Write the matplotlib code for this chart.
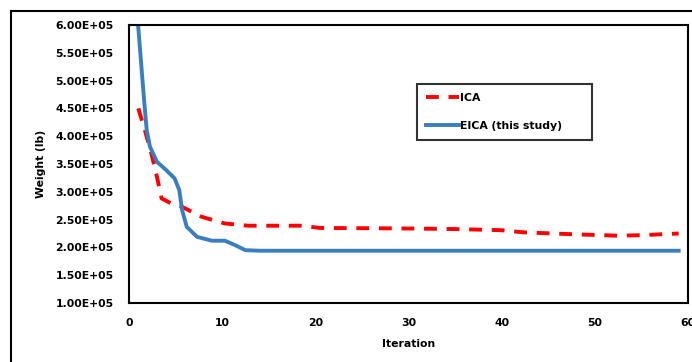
import matplotlib
matplotlib.use("Agg")
import matplotlib.pyplot as plt
from matplotlib.lines import Line2D

ica_x = [1.0, 1.7, 2.4, 3.0, 3.5, 4.9, 5.7, 7.8, 10.3, 12.8, 18.4, 20.5, 30.0, 35.0, 39.9, 42.4, 47.1, 52.5, 55.0, 59.0]
ica_y = [4.50e5, 4.11e5, 3.69e5, 3.27e5, 2.88e5, 2.76e5, 2.73e5, 2.55e5, 2.43e5, 2.39e5, 2.39e5, 2.35e5, 2.34e5, 2.33e5, 2.31e5, 2.27e5, 2.24e5, 2.21e5, 2.22e5, 2.25e5]

eica_x = [1.0, 1.36, 1.65, 1.9, 2.25, 3.0, 4.0, 4.9, 5.4, 5.7, 6.2, 7.3, 8.9, 10.3, 11.4, 12.5, 14.0, 20.0, 30.0, 40.0, 50.0, 59.0]
eica_y = [5.95e5, 5.19e5, 4.59e5, 4.11e5, 3.81e5, 3.54e5, 3.39e5, 3.24e5, 3.03e5, 2.67e5, 2.37e5, 2.19e5, 2.12e5, 2.12e5, 2.04e5, 1.95e5, 1.94e5, 1.94e5, 1.94e5, 1.94e5, 1.94e5, 1.94e5]

yticks = [1.0e5, 1.5e5, 2.0e5, 2.5e5, 3.0e5, 3.5e5, 4.0e5, 4.5e5, 5.0e5, 5.5e5, 6.0e5]
xticks = [0, 10, 20, 30, 40, 50, 60]

W, H = 692, 362
fig = plt.figure(figsize=(W / 100, H / 100), dpi=100)
font = "DejaVu Sans"

# outer border (top and left visible)
fig.add_artist(Line2D([11 / W, 11 / W], [0, 1 - 11 / H], transform=fig.transFigure, color="black", lw=1.5))
fig.add_artist(Line2D([11 / W, 1], [1 - 11 / H, 1 - 11 / H], transform=fig.transFigure, color="black", lw=1.5))

l, r, t, b = 129, 688, 25, 303
ax = fig.add_axes([l / W, 1 - b / H, (r - l) / W, (b - t) / H])
ax.plot(ica_x, ica_y, color="#ff0000", lw=2.8, ls=(0, (3.3, 2.5)), label="ICA", solid_capstyle="butt")
ax.plot(eica_x, eica_y, color="#3a7ebf", lw=2.8, label="EICA (this study)")
ax.set_xlim(0, 60)
ax.set_ylim(1.0e5, 6.0e5)
ax.set_xticks(xticks)
ax.set_yticks(yticks)
ax.set_yticklabels([f"{v:.2E}" for v in yticks], fontsize=7.8, fontweight="bold", family=font)
xl = ax.set_xticklabels([str(v) for v in xticks], fontsize=7.8, fontweight="bold", family=font)
xl[-1].set_clip_on(False)
ax.tick_params(length=0)
ax.tick_params(axis="x", pad=11)
ax.tick_params(axis="y", pad=11)
for s in ax.spines.values():
    s.set_linewidth(1.5)
ax.set_xlabel("Iteration", fontsize=7.8, fontweight="bold", family=font, labelpad=8)
ax.set_ylabel("Weight (lb)", fontsize=7.8, fontweight="bold", family=font, labelpad=7)

lx0 = (417 - l) / (r - l)
lw_ = (592 - 417) / (r - l)
ly1 = 1 - (84 - t) / (b - t)
leg = ax.legend(loc="upper left", bbox_to_anchor=(lx0, ly1 - 0.2, lw_, 0.2), mode="expand",
                frameon=True, fancybox=False, edgecolor="black",
                prop={"weight": "bold", "family": font, "size": 7.8},
                handlelength=3.0, handletextpad=0.1, borderpad=0.85, labelspacing=1.6,
                borderaxespad=0)
leg.get_frame().set_linewidth(1.5)
fig.savefig("out.png", dpi=100)
